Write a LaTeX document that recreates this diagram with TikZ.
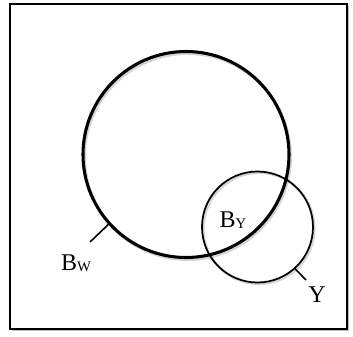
\documentclass[tikz,border=0pt]{standalone}
\usepackage{fontspec}
\setmainfont{Liberation Serif}
\usetikzlibrary{shadows}

\definecolor{shadowgray}{RGB}{150, 150, 150}

\tikzset{
    setcircle/.style={circle, draw=black, inner sep=0pt, outer sep=0pt},
    setlabel/.style={inner sep=0pt, font=\fontsize{18}{18}\selectfont},
    tickline/.style={line width=1.2pt}
}
\newcommand{\setsub}[1]{\raisebox{-0.8pt}{\fontsize{11}{11}\selectfont #1}}

\begin{document}
\begin{tikzpicture}[x=0.75pt, y=0.75pt]

            \useasboundingbox (0,0) rectangle (353,336);

            \draw[line width=1.6pt, drop shadow={shadow xshift=1.5pt, shadow yshift=-1.5pt, opacity=0.5}, fill=white] (10,7) rectangle (347,332);

            \draw[shadowgray, opacity=0.4, line width=2.2pt] (187.5,179.5) circle (103);
            \draw[shadowgray, opacity=0.4, line width=1.6pt] (259,107.5) circle (55.5);

            \node[setcircle, line width=2.3pt, minimum size=206*0.75pt] (bw) at (186,181.5) {};
            \node[setcircle, line width=1.3pt, minimum size=111*0.75pt] (y) at (257.5,109) {};

            \coordinate (bwend) at (90,94);
            \coordinate (yend) at (306,56);

            \draw[tickline] (bw.222) -- (bwend);
            \draw[tickline] (y.-48) -- (yend);

            \node[setlabel] (bwlabel) at (76,73) {B\setsub{W}};
            \node[setlabel] (bylabel) at (233,116) {B\setsub{Y}};
            \node[setlabel] (ylabel) at (317,41) {Y};

        \end{tikzpicture}
\end{document}
